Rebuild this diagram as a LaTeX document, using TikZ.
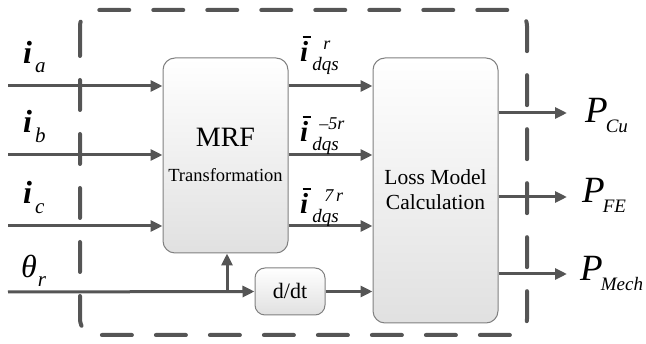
\documentclass[tikz,border=0pt]{standalone}
\usepackage{fontspec}
\setmainfont{Liberation Serif}
\usetikzlibrary{arrows.meta}
\definecolor{lncol}{HTML}{555555}
\definecolor{bdcol}{HTML}{808080}
% subscript / superscript helpers (text mode)
\newcommand{\sbx}[3]{\raisebox{#1}{\fontsize{#2}{#2}\selectfont\textit{#3}}}
\newcommand{\bi}{\textbf{\textit{i}}}
\newcommand{\ibar}{\rlap{\hspace{2.5pt}\raisebox{24pt}{\rule{8pt}{1.6pt}}}\bi}
\tikzset{
  conn/.style={draw=lncol, line width=3pt, -{Triangle[length=12pt,width=11pt]}},
  blk/.style={draw=bdcol, line width=1pt, rounded corners=12pt, top color=white, bottom color=black!12},
  border/.style={draw=lncol, line width=4pt, line cap=round, dash pattern=on 30pt off 24pt, rounded corners=16pt},
  inlbl/.style={anchor=base west, inner sep=0pt, font=\fontsize{32}{36}\selectfont},
  midlbl/.style={anchor=base west, inner sep=0pt, font=\fontsize{29}{32}\selectfont},
  outlbl/.style={anchor=base west, inner sep=0pt, font=\fontsize{37}{40}\selectfont},
  txt/.style={anchor=base, inner sep=0pt},
}
\begin{document}
\begin{tikzpicture}[x=1pt,y=-1pt]
\useasboundingbox (0,0) rectangle (646,344);
% dashed enclosure
\draw[border] (80,10) rectangle (527,335);
% blocks
\node[blk, minimum width=125pt, minimum height=195pt] (mrf) at (225.5,155.5) {};
\node[txt, font=\fontsize{28}{30}\selectfont] (mrft) at (225.5,147) {MRF};
\node[txt, font=\fontsize{18.5}{20}\selectfont] (mrfs) at (225.5,182) {Transformation};
\node[blk, minimum width=125pt, minimum height=265pt] (loss) at (435.5,190.5) {};
\node[txt, font=\fontsize{21.5}{24}\selectfont] (lossa) at (435.5,185) {Loss Model};
\node[txt, font=\fontsize{21.5}{24}\selectfont] (lossb) at (435.5,210) {Calculation};
\node[blk, rounded corners=10pt, minimum width=70pt, minimum height=47pt] (ddt) at (290,291.5) {};
\node[txt, font=\fontsize{22}{24}\selectfont] (ddtt) at (290,299) {d/dt};
% input coordinates
\coordinate (ina) at (8,86);
\coordinate (inb) at (8,155);
\coordinate (inc) at (8,226);
\coordinate (inth) at (8,292);
\coordinate (br) at (227,292);
% inputs
\draw[conn] (ina) -- (ina -| mrf.west);
\draw[conn] (inb) -- (inb -| mrf.west);
\draw[conn] (inc) -- (inc -| mrf.west);
\draw[conn] (inth) -- (ddt.west);
\draw[conn] (br) -- (br |- mrf.south);
% mrf -> loss
\draw[conn] (mrf.east |- ina) -- (loss.west |- ina);
\draw[conn] (mrf.east |- inb) -- (loss.west |- inb);
\draw[conn] (mrf.east |- inc) -- (loss.west |- inc);
\draw[conn] (ddt.east) -- (ddt.east -| loss.west);
% outputs
\coordinate (ocu) at (567,113);
\coordinate (ofe) at (567,197);
\coordinate (ome) at (567,274);
\draw[conn] (loss.east |- ocu) -- (ocu);
\draw[conn] (loss.east |- ofe) -- (ofe);
\draw[conn] (loss.east |- ome) -- (ome);
% input labels
\node[inlbl] (la) at (23,64) {\bi\kern3pt\sbx{-9pt}{21}{a}};
\node[inlbl] (lb) at (23,133) {\bi\kern3pt\sbx{-10pt}{21}{b}};
\node[inlbl] (lc) at (23,204) {\bi\kern3pt\sbx{-10pt}{21}{c}};
\node[inlbl] (lt) at (21,278) {\textit{θ}\kern1pt\sbx{-9pt}{21}{r}};
% intermediate labels
\node[midlbl] (l1) at (300,62) {\ibar\kern4pt\rlap{\kern11pt\sbx{12pt}{18}{r}}\sbx{-9pt}{19}{dqs}};
\node[midlbl] (l2) at (300,142) {\ibar\kern4pt\rlap{\kern7pt\sbx{12pt}{18}{\textup{–}5r}}\sbx{-9pt}{19}{dqs}};
\node[midlbl] (l3) at (300,214) {\ibar\kern4pt\rlap{\kern12pt\sbx{12pt}{18}{7\,r}}\sbx{-9pt}{19}{dqs}};
% output labels
\node[outlbl] (pcu) at (585,123) {\textit{P}\kern-2pt\sbx{-10pt}{19}{Cu}};
\node[outlbl] (pfe) at (582,203) {\textit{P}\kern-2pt\sbx{-10pt}{19}{FE}};
\node[outlbl] (pme) at (580,281) {\textit{P}\kern-2pt\sbx{-10pt}{19}{Mech}};
\end{tikzpicture}
\end{document}
